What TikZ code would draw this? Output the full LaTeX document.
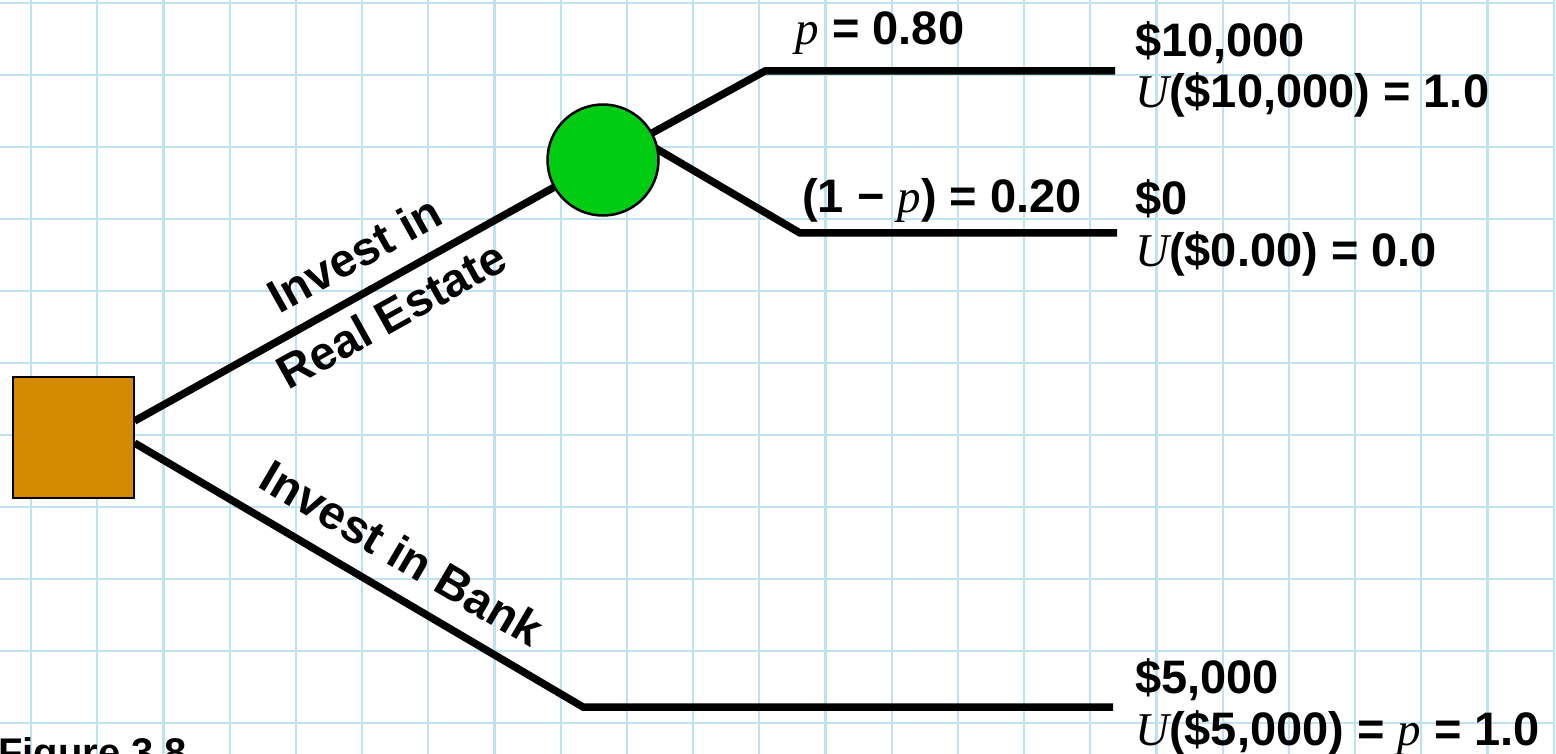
\documentclass[tikz,border=0pt]{standalone}
\usepackage{fontspec}
\setmainfont{Liberation Sans}
\newfontfamily\tmsfont{Liberation Serif}
\usepackage{xcolor}
\usepackage{tikz}
\usetikzlibrary{calc}
\definecolor{gridblue}{HTML}{BEE2EE}
\definecolor{decfill}{HTML}{D38A00}
\definecolor{chancefill}{HTML}{00CC12}
\newcommand{\vit}[1]{{\tmsfont\mdseries\itshape #1}}
\pgfdeclarelayer{grid}
\pgfdeclarelayer{branches}
\pgfsetlayers{grid,branches,main}

\begin{document}
\begin{tikzpicture}[
  x=1pt, y=-1pt,
  every node/.style={font=\fontsize{47}{51}\selectfont\bfseries, inner sep=0pt},
  gridline/.style={draw=gridblue, line width=2.2pt},
  decision/.style={draw=black, fill=decfill, line width=2pt,
    minimum size=121pt, inner sep=0pt},
  chance/.style={circle, draw=black, fill=chancefill, line width=2.5pt,
    minimum size=111pt, inner sep=0pt},
  branch/.style={line width=7.5pt, line join=miter},
  actlabel/.style={sloped},
  prob/.style={anchor=base},
  payoff/.style={anchor=base west}
]
\useasboundingbox (0,0) rectangle (1556,754);

% Grid paper
\begin{pgfonlayer}{grid}
\foreach \i in {0,...,23}
  \draw[gridline] ({31+66.2*\i},0) -- ({31+66.2*\i},754);
\foreach \j in {0,...,10}
  \draw[gridline] (0,{3+72*\j}) -- (1556,{3+72*\j});
\end{pgfonlayer}

% Decision and chance nodes
\node[decision] (dec) at (73,437.5) {};
\node[chance] (chance) at (603,160) {};

% Branch corners and ends
\coordinate (c1) at (765,71);
\coordinate (e1) at (1115,71);
\coordinate (c2) at (800,233);
\coordinate (e2) at (1117,233);
\coordinate (c3) at (583,707);
\coordinate (e3) at (1113,707);

% Branches
\begin{pgfonlayer}{branches}
\draw[branch] ([yshift=16.5pt]dec.east)
  -- node[actlabel, above, inner sep=18pt, pos=0.51] (relab1) {Invest in}
     node[actlabel, below, inner sep=11pt, pos=0.515] (relab2) {Real Estate}
  (chance.center);
\draw[branch] (chance.center) -- (c1) -- (e1);
\draw[branch] ($(chance.10)!-15pt!(c2)$) -- (c2) -- (e2);
\draw[branch] ([yshift=-5.5pt]dec.east)
  -- node[actlabel, above, inner sep=20pt, pos=0.55] (banklab) {Invest in Bank}
  (c3) -- (e3);
\end{pgfonlayer}

% Probabilities
\node[prob] (p1) at (880,45) {\vit{p} = 0.80};
\node[prob] (p2) at (942,213) {(1 − \vit{p}) = 0.20};

% Payoffs and utilities
\node[payoff] (v1) at (1135,57) {\$10,000};
\node[payoff] (u1) at (1135,108) {\vit{U}(\$10,000) = 1.0};
\node[payoff] (v2) at (1135,215) {\$0};
\node[payoff] (u2) at (1135,267) {\vit{U}(\$0.00) = 0.0};
\node[payoff] (v3) at (1135,693) {\$5,000};
\node[payoff] (u3) at (1135,745) {\vit{U}(\$5,000) = \vit{p} = 1.0};

% Caption
\node[payoff, font=\fontsize{40}{44}\selectfont\bfseries] (fig) at (-2,766) {Figure 3.8};

\end{tikzpicture}
\end{document}
